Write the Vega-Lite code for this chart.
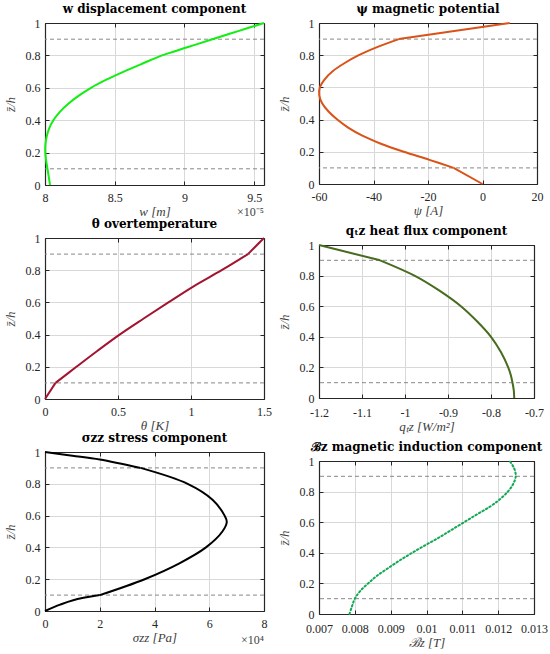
{
  "$schema": "https://vega.github.io/schema/vega-lite/v6.json",
  "padding": {"left": 4, "top": 3, "right": 0, "bottom": 0},
  "background": "white",
  "datasets": {
    "guides": [{"z": 0.1}, {"z": 0.9}],
    "w": [
      {"z": 0, "v": 8.036, "seg": "b"}, {"z": 0.05, "v": 8.027, "seg": "b"}, {"z": 0.1, "v": 8.018, "seg": "b"},
      {"z": 0.15, "v": 8.008, "seg": "b"}, {"z": 0.2, "v": 8.002, "seg": "b"}, {"z": 0.25, "v": 8.003, "seg": "b"},
      {"z": 0.3, "v": 8.012, "seg": "b"}, {"z": 0.35, "v": 8.03, "seg": "b"}, {"z": 0.4, "v": 8.06, "seg": "b"},
      {"z": 0.45, "v": 8.105, "seg": "b"}, {"z": 0.5, "v": 8.165, "seg": "b"}, {"z": 0.55, "v": 8.24, "seg": "b"},
      {"z": 0.6, "v": 8.33, "seg": "b"}, {"z": 0.65, "v": 8.44, "seg": "b"}, {"z": 0.7, "v": 8.565, "seg": "b"},
      {"z": 0.75, "v": 8.7, "seg": "b"}, {"z": 0.8, "v": 8.84, "seg": "b"}, {"z": 0.85, "v": 9.02, "seg": "b"},
      {"z": 0.9, "v": 9.2, "seg": "b"}, {"z": 0.95, "v": 9.385, "seg": "b"}, {"z": 1, "v": 9.57, "seg": "b"}
    ],
    "psi": [
      {"z": 0, "v": 0, "seg": "a"}, {"z": 0.1, "v": -10.6, "seg": "a"},
      {"z": 0.1, "v": -10.6, "seg": "b"}, {"z": 0.15, "v": -19.5, "seg": "b"}, {"z": 0.2, "v": -28.9, "seg": "b"},
      {"z": 0.25, "v": -37.3, "seg": "b"}, {"z": 0.3, "v": -44.1, "seg": "b"}, {"z": 0.35, "v": -49.3, "seg": "b"},
      {"z": 0.4, "v": -53.3, "seg": "b"}, {"z": 0.45, "v": -56.5, "seg": "b"}, {"z": 0.5, "v": -58.8, "seg": "b"},
      {"z": 0.55, "v": -59.9, "seg": "b"}, {"z": 0.6, "v": -59.7, "seg": "b"}, {"z": 0.65, "v": -57.9, "seg": "b"},
      {"z": 0.7, "v": -55, "seg": "b"}, {"z": 0.75, "v": -50.7, "seg": "b"}, {"z": 0.8, "v": -45.4, "seg": "b"},
      {"z": 0.85, "v": -38.7, "seg": "b"}, {"z": 0.9, "v": -30.7, "seg": "b"},
      {"z": 0.9, "v": -30.7, "seg": "c"}, {"z": 1, "v": 10, "seg": "c"}
    ],
    "theta": [
      {"z": 0, "v": 0, "seg": "a"}, {"z": 0.1, "v": 0.072, "seg": "a"},
      {"z": 0.1, "v": 0.072, "seg": "b"}, {"z": 0.2, "v": 0.215, "seg": "b"}, {"z": 0.3, "v": 0.36, "seg": "b"},
      {"z": 0.4, "v": 0.511, "seg": "b"}, {"z": 0.5, "v": 0.676, "seg": "b"}, {"z": 0.6, "v": 0.845, "seg": "b"},
      {"z": 0.7, "v": 1.018, "seg": "b"}, {"z": 0.8, "v": 1.21, "seg": "b"}, {"z": 0.9, "v": 1.39, "seg": "b"},
      {"z": 0.9, "v": 1.39, "seg": "c"}, {"z": 1, "v": 1.5, "seg": "c"}
    ],
    "q": [
      {"z": 0, "v": -0.746, "seg": "b"}, {"z": 0.05, "v": -0.747, "seg": "b"}, {"z": 0.1, "v": -0.75, "seg": "b"},
      {"z": 0.15, "v": -0.754, "seg": "b"}, {"z": 0.2, "v": -0.76, "seg": "b"}, {"z": 0.3, "v": -0.777, "seg": "b"},
      {"z": 0.4, "v": -0.8, "seg": "b"}, {"z": 0.5, "v": -0.832, "seg": "b"}, {"z": 0.6, "v": -0.87, "seg": "b"},
      {"z": 0.7, "v": -0.919, "seg": "b"}, {"z": 0.8, "v": -0.978, "seg": "b"}, {"z": 0.9, "v": -1.058, "seg": "b"},
      {"z": 0.9, "v": -1.058, "seg": "c"}, {"z": 1, "v": -1.2, "seg": "c"}
    ],
    "sigma": [
      {"z": 0, "v": 0, "seg": "a"}, {"z": 0.04, "v": 0.55, "seg": "a"}, {"z": 0.068, "v": 1.03, "seg": "a"}, {"z": 0.1, "v": 2, "seg": "a"},
      {"z": 0.1, "v": 2, "seg": "b"}, {"z": 0.2, "v": 3.64, "seg": "b"}, {"z": 0.3, "v": 4.91, "seg": "b"},
      {"z": 0.4, "v": 5.88, "seg": "b"}, {"z": 0.5, "v": 6.48, "seg": "b"}, {"z": 0.56, "v": 6.64, "seg": "b"},
      {"z": 0.6, "v": 6.56, "seg": "b"}, {"z": 0.7, "v": 6.12, "seg": "b"}, {"z": 0.8, "v": 5.21, "seg": "b"},
      {"z": 0.9, "v": 3.49, "seg": "b"},
      {"z": 0.9, "v": 3.49, "seg": "c"}, {"z": 0.953, "v": 2, "seg": "c"}, {"z": 0.977, "v": 1, "seg": "c"}, {"z": 1, "v": 0, "seg": "c"}
    ],
    "bz": [
      {"z": 0, "v": 0.00785, "seg": "b"}, {"z": 0.05, "v": 0.00792, "seg": "b"}, {"z": 0.1, "v": 0.008, "seg": "b"},
      {"z": 0.15, "v": 0.00815, "seg": "b"}, {"z": 0.2, "v": 0.00837, "seg": "b"}, {"z": 0.25, "v": 0.00862, "seg": "b"},
      {"z": 0.3, "v": 0.00893, "seg": "b"}, {"z": 0.35, "v": 0.00925, "seg": "b"}, {"z": 0.4, "v": 0.0096, "seg": "b"},
      {"z": 0.45, "v": 0.00997, "seg": "b"}, {"z": 0.5, "v": 0.01035, "seg": "b"}, {"z": 0.55, "v": 0.0107, "seg": "b"},
      {"z": 0.6, "v": 0.01105, "seg": "b"}, {"z": 0.65, "v": 0.0114, "seg": "b"}, {"z": 0.7, "v": 0.01176, "seg": "b"},
      {"z": 0.75, "v": 0.01205, "seg": "b"}, {"z": 0.8, "v": 0.01227, "seg": "b"}, {"z": 0.85, "v": 0.01242, "seg": "b"},
      {"z": 0.9, "v": 0.01249, "seg": "b"}, {"z": 0.95, "v": 0.01245, "seg": "b"}, {"z": 1, "v": 0.01232, "seg": "b"}
    ]
  },
  "hconcat": [
    {
      "spacing": 0,
      "vconcat": [
        {
          "width": 219, "height": 162,
          "title": "w displacement component",
          "layer": [
            {"data": {"name": "guides"}, "mark": {"type": "rule", "color": "#888888", "strokeDash": [4, 3], "strokeWidth": 1},
             "encoding": {"y": {"field": "z", "type": "quantitative", "scale": {"domain": [0, 1], "nice": false}, "axis": {"orient": "right", "labels": false, "title": null, "grid": false, "values": [0, 0.2, 0.4, 0.6, 0.8, 1]}}}},
            {"data": {"name": "guides"}, "mark": {"type": "rule", "opacity": 0},
             "encoding": {"x": {"datum": 8, "type": "quantitative", "scale": {"domain": [8, 9.57], "nice": false}, "axis": {"orient": "top", "labels": false, "title": null, "grid": false, "values": [8, 8.5, 9, 9.5]}}}},
            {"data": {"name": "w"}, "mark": {"type": "line", "color": "#11ee11", "strokeWidth": 2, "interpolate": "catmull-rom"},
             "encoding": {
               "x": {"field": "v", "type": "quantitative", "title": "w [m]", "scale": {"domain": [8, 9.57], "nice": false}, "axis": {"orient": "bottom", "grid": true, "values": [8, 8.5, 9, 9.5]}},
               "y": {"field": "z", "type": "quantitative", "title": "z̄/h", "scale": {"domain": [0, 1], "nice": false}, "axis": {"orient": "left", "grid": true, "values": [0, 0.2, 0.4, 0.6, 0.8, 1]}},
               "order": {"field": "z"}, "detail": {"field": "seg"}}},
            {"data": {"values": [{}]}, "mark": {"type": "text", "align": "right", "baseline": "middle", "font": "Liberation Serif", "fontSize": 12, "color": "#404040"},
             "encoding": {"x": {"datum": 9.57, "type": "quantitative", "scale": {"domain": [8, 9.57], "nice": false}, "axis": null},
                          "y": {"datum": -0.165, "type": "quantitative", "scale": {"domain": [0, 1], "nice": false}, "axis": null},
                          "text": {"value": "×10⁻⁵"}}}
          ],
          "resolve": {"axis": {"x": "independent", "y": "independent"}}
        },
        {
          "width": 219, "height": 161,
          "title": "θ overtemperature",
          "layer": [
            {"data": {"name": "guides"}, "mark": {"type": "rule", "color": "#888888", "strokeDash": [4, 3], "strokeWidth": 1},
             "encoding": {"y": {"field": "z", "type": "quantitative", "scale": {"domain": [0, 1], "nice": false}, "axis": {"orient": "right", "labels": false, "title": null, "grid": false, "values": [0, 0.2, 0.4, 0.6, 0.8, 1]}}}},
            {"data": {"name": "guides"}, "mark": {"type": "rule", "opacity": 0},
             "encoding": {"x": {"datum": 0, "type": "quantitative", "scale": {"domain": [0, 1.5], "nice": false}, "axis": {"orient": "top", "labels": false, "title": null, "grid": false, "values": [0, 0.5, 1, 1.5]}}}},
            {"data": {"name": "theta"}, "mark": {"type": "line", "color": "#a2142f", "strokeWidth": 2, "interpolate": "catmull-rom"},
             "encoding": {
               "x": {"field": "v", "type": "quantitative", "title": "θ [K]", "scale": {"domain": [0, 1.5], "nice": false}, "axis": {"orient": "bottom", "grid": true, "values": [0, 0.5, 1, 1.5]}},
               "y": {"field": "z", "type": "quantitative", "title": "z̄/h", "scale": {"domain": [0, 1], "nice": false}, "axis": {"orient": "left", "grid": true, "values": [0, 0.2, 0.4, 0.6, 0.8, 1]}},
               "order": {"field": "z"}, "detail": {"field": "seg"}}}
          ],
          "resolve": {"axis": {"x": "independent", "y": "independent"}}
        },
        {
          "width": 219, "height": 159,
          "title": "σzz stress component",
          "layer": [
            {"data": {"name": "guides"}, "mark": {"type": "rule", "color": "#888888", "strokeDash": [4, 3], "strokeWidth": 1},
             "encoding": {"y": {"field": "z", "type": "quantitative", "scale": {"domain": [0, 1], "nice": false}, "axis": {"orient": "right", "labels": false, "title": null, "grid": false, "values": [0, 0.2, 0.4, 0.6, 0.8, 1]}}}},
            {"data": {"name": "guides"}, "mark": {"type": "rule", "opacity": 0},
             "encoding": {"x": {"datum": 0, "type": "quantitative", "scale": {"domain": [0, 8], "nice": false}, "axis": {"orient": "top", "labels": false, "title": null, "grid": false, "values": [0, 2, 4, 6, 8]}}}},
            {"data": {"name": "sigma"}, "mark": {"type": "line", "color": "#000000", "strokeWidth": 2, "interpolate": "catmull-rom"},
             "encoding": {
               "x": {"field": "v", "type": "quantitative", "title": "σzz [Pa]", "scale": {"domain": [0, 8], "nice": false}, "axis": {"orient": "bottom", "grid": true, "values": [0, 2, 4, 6, 8]}},
               "y": {"field": "z", "type": "quantitative", "title": "z̄/h", "scale": {"domain": [0, 1], "nice": false}, "axis": {"orient": "left", "grid": true, "values": [0, 0.2, 0.4, 0.6, 0.8, 1]}},
               "order": {"field": "z"}, "detail": {"field": "seg"}}},
            {"data": {"values": [{}]}, "mark": {"type": "text", "align": "right", "baseline": "middle", "font": "Liberation Serif", "fontSize": 12, "color": "#404040"},
             "encoding": {"x": {"datum": 8, "type": "quantitative", "scale": {"domain": [0, 8], "nice": false}, "axis": null},
                          "y": {"datum": -0.18, "type": "quantitative", "scale": {"domain": [0, 1], "nice": false}, "axis": null},
                          "text": {"value": "×10⁴"}}}
          ],
          "resolve": {"axis": {"x": "independent", "y": "independent"}}
        }
      ]
    },
    {
      "spacing": 8,
      "vconcat": [
        {
          "width": 218, "height": 161,
          "title": "ψ magnetic potential",
          "layer": [
            {"data": {"name": "guides"}, "mark": {"type": "rule", "color": "#888888", "strokeDash": [4, 3], "strokeWidth": 1},
             "encoding": {"y": {"field": "z", "type": "quantitative", "scale": {"domain": [0, 1], "nice": false}, "axis": {"orient": "right", "labels": false, "title": null, "grid": false, "values": [0, 0.2, 0.4, 0.6, 0.8, 1]}}}},
            {"data": {"name": "guides"}, "mark": {"type": "rule", "opacity": 0},
             "encoding": {"x": {"datum": 0, "type": "quantitative", "scale": {"domain": [-60, 20], "nice": false}, "axis": {"orient": "top", "labels": false, "title": null, "grid": false, "values": [-60, -40, -20, 0, 20]}}}},
            {"data": {"name": "psi"}, "mark": {"type": "line", "color": "#d95319", "strokeWidth": 2, "interpolate": "catmull-rom"},
             "encoding": {
               "x": {"field": "v", "type": "quantitative", "title": "ψ [A]", "scale": {"domain": [-60, 20], "nice": false}, "axis": {"orient": "bottom", "grid": true, "values": [-60, -40, -20, 0, 20]}},
               "y": {"field": "z", "type": "quantitative", "title": "z̄/h", "scale": {"domain": [0, 1], "nice": false}, "axis": {"orient": "left", "grid": true, "values": [0, 0.2, 0.4, 0.6, 0.8, 1]}},
               "order": {"field": "z"}, "detail": {"field": "seg"}}}
          ],
          "resolve": {"axis": {"x": "independent", "y": "independent"}}
        },
        {
          "width": 215, "height": 153,
          "title": "qₜz heat flux component",
          "layer": [
            {"data": {"name": "guides"}, "mark": {"type": "rule", "color": "#888888", "strokeDash": [4, 3], "strokeWidth": 1},
             "encoding": {"y": {"field": "z", "type": "quantitative", "scale": {"domain": [0, 1], "nice": false}, "axis": {"orient": "right", "labels": false, "title": null, "grid": false, "values": [0, 0.2, 0.4, 0.6, 0.8, 1]}}}},
            {"data": {"name": "guides"}, "mark": {"type": "rule", "opacity": 0},
             "encoding": {"x": {"datum": -1, "type": "quantitative", "scale": {"domain": [-1.2, -0.7], "nice": false}, "axis": {"orient": "top", "labels": false, "title": null, "grid": false, "values": [-1.2, -1.1, -1, -0.9, -0.8, -0.7]}}}},
            {"data": {"name": "q"}, "mark": {"type": "line", "color": "#476b1f", "strokeWidth": 2, "interpolate": "catmull-rom"},
             "encoding": {
               "x": {"field": "v", "type": "quantitative", "title": "qₜz [W/m²]", "scale": {"domain": [-1.2, -0.7], "nice": false}, "axis": {"orient": "bottom", "grid": true, "labelPadding": 13, "values": [-1.2, -1.1, -1, -0.9, -0.8, -0.7]}},
               "y": {"field": "z", "type": "quantitative", "title": "z̄/h", "scale": {"domain": [0, 1], "nice": false}, "axis": {"orient": "left", "grid": true, "values": [0, 0.2, 0.4, 0.6, 0.8, 1]}},
               "order": {"field": "z"}, "detail": {"field": "seg"}}}
          ],
          "resolve": {"axis": {"x": "independent", "y": "independent"}}
        },
        {
          "width": 215, "height": 153,
          "title": "ℬz magnetic induction component",
          "layer": [
            {"data": {"name": "guides"}, "mark": {"type": "rule", "color": "#888888", "strokeDash": [4, 3], "strokeWidth": 1},
             "encoding": {"y": {"field": "z", "type": "quantitative", "scale": {"domain": [0, 1], "nice": false}, "axis": {"orient": "right", "labels": false, "title": null, "grid": false, "values": [0, 0.2, 0.4, 0.6, 0.8, 1]}}}},
            {"data": {"name": "guides"}, "mark": {"type": "rule", "opacity": 0},
             "encoding": {"x": {"datum": 0.01, "type": "quantitative", "scale": {"domain": [0.007, 0.013], "nice": false}, "axis": {"orient": "top", "labels": false, "title": null, "grid": false, "values": [0.007, 0.008, 0.009, 0.01, 0.011, 0.012, 0.013]}}}},
            {"data": {"name": "bz"}, "mark": {"type": "line", "color": "#12a854", "strokeWidth": 2, "strokeDash": [1.5, 2.5], "strokeCap": "round", "interpolate": "catmull-rom"},
             "encoding": {
               "x": {"field": "v", "type": "quantitative", "title": "ℬz [T]", "scale": {"domain": [0.007, 0.013], "nice": false}, "axis": {"orient": "bottom", "grid": true, "labelPadding": 13, "values": [0.007, 0.008, 0.009, 0.01, 0.011, 0.012, 0.013]}},
               "y": {"field": "z", "type": "quantitative", "title": "z̄/h", "scale": {"domain": [0, 1], "nice": false}, "axis": {"orient": "left", "grid": true, "values": [0, 0.2, 0.4, 0.6, 0.8, 1]}},
               "order": {"field": "z"}, "detail": {"field": "seg"}}}
          ],
          "resolve": {"axis": {"x": "independent", "y": "independent"}}
        }
      ]
    }
  ],
  "spacing": 6,
  "config": {
    "view": {"stroke": null},
    "title": {"font": "DejaVu Serif", "fontSize": 12, "fontWeight": "bold", "color": "#000000", "offset": 1},
    "axis": {
      "labelFont": "Liberation Serif", "labelFontSize": 12, "labelColor": "#262626",
      "labelFlush": false, "labelOverlap": false, "labelPadding": 9,
      "labelExpr": "'' + datum.value",
      "titleFont": "Liberation Serif", "titleFontSize": 13, "titleFontWeight": "normal", "titleFontStyle": "italic",
      "titleColor": "#404040",
      "domainColor": "#262626", "domainWidth": 1.2,
      "tickColor": "#262626", "tickSize": -4, "tickWidth": 1,
      "gridColor": "#d9d9d9", "gridWidth": 1
    },
    "axisX": {"titlePadding": 2, "labelPadding": 11},
    "axisY": {"titlePadding": 8}
  }
}
